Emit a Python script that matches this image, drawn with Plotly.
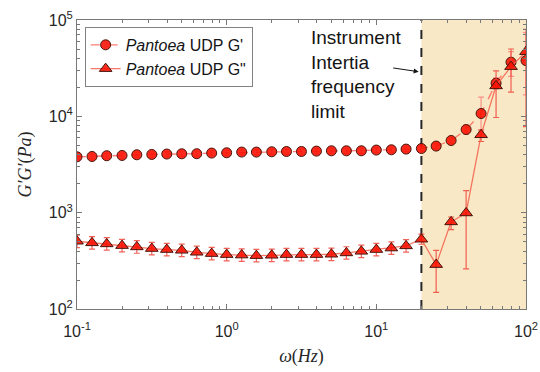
import plotly.graph_objects as go

# Oscillatory frequency sweep, Pantoea UDP
freq = [0.1, 0.126, 0.158, 0.2, 0.251, 0.316, 0.398, 0.501, 0.631, 0.794,
        1.0, 1.26, 1.58, 2.0, 2.51, 3.16, 3.98, 5.01, 6.31, 7.94,
        10.0, 12.6, 15.8, 20.0, 25.1, 31.6, 39.8, 50.1, 63.1, 79.4, 100.0]

g_storage = [3800, 3830, 3900, 3925, 3990, 4020, 4060, 4085, 4090, 4155,
             4185, 4255, 4255, 4285, 4315, 4315, 4355, 4385, 4385, 4390,
             4465, 4495, 4570, 4635, 4910, 5610, 7290, 10700, 22100, 36500, 37900]
g_storage_hi = [4030, 4060, 4130, 4160, 4230, 4260, 4300, 4330, 4340, 4400,
                4440, 4510, 4510, 4540, 4570, 4570, 4620, 4650, 4650, 4650,
                4730, 4760, 4840, 4910, 5200, 5950, 8110, 15800, 25100, 46900, 73800]
g_storage_lo = [3570, 3600, 3670, 3690, 3750, 3780, 3820, 3840, 3840, 3910,
                3930, 4000, 4000, 4030, 4060, 4060, 4090, 4120, 4120, 4130,
                4200, 4230, 4300, 4360, 4620, 5270, 6550, 7000, 19100, 26000, 16700]

g_loss = [505, 486, 474, 455, 441, 424, 414, 407, 388, 376,
          367, 363, 358, 361, 367, 367, 367, 370, 382, 397,
          414, 429, 452, 530, 289, 802, 993, 6430, 20700, 32800, 46900]
g_loss_hi = [585, 565, 550, 528, 512, 492, 480, 472, 450, 436,
             426, 421, 415, 419, 426, 426, 426, 429, 443, 460,
             480, 498, 524, 600, 406, 902, 1690, 7240, 29600, 50000, 80000]
g_loss_lo = [434, 418, 408, 391, 379, 365, 356, 350, 334, 323,
             316, 312, 308, 310, 316, 316, 316, 318, 329, 341,
             356, 369, 389, 470, 149, 667, 261, 5480, 9730, 17800, 7830]

inertia_limit = 20.0
x_ticks = [0.1, 1, 10, 100]
x_ticktext = ["10<sup>-1</sup>", "10<sup>0</sup>", "10<sup>1</sup>", "10<sup>2</sup>"]
y_ticks = [100, 1000, 10000, 100000]
y_ticktext = ["10<sup>2</sup>", "10<sup>3</sup>", "10<sup>4</sup>", "10<sup>5</sup>"]


def minor_ticks(e0, e1):
    return [m * 10.0 ** e for e in range(e0, e1) for m in range(2, 10)]


def err_up(vals, hi):
    return [h - v for v, h in zip(vals, hi)]


def err_dn(vals, lo):
    return [v - l for v, l in zip(vals, lo)]


fig = go.Figure()

# frequency range beyond the instrument inertia limit
fig.add_shape(type="rect", xref="x", yref="paper", x0=inertia_limit, x1=100,
              y0=0, y1=1, fillcolor="rgb(248,232,198)", line_width=0, layer="below")
fig.add_shape(type="line", xref="x", yref="paper", x0=inertia_limit, x1=inertia_limit,
              y0=0, y1=1, line=dict(color="rgb(40,40,40)", width=2, dash="dash"),
              layer="below")

fig.add_trace(go.Scatter(
    x=freq, y=g_storage, mode="lines+markers",
    name="<i>Pantoea</i> UDP G'",
    line=dict(color="rgba(255,80,70,0.75)", width=1.3, dash="dash"),
    marker=dict(symbol="circle", size=10, color="rgba(250,15,0,0.88)",
                line=dict(color="rgb(70,20,10)", width=1)),
    error_y=dict(type="data", symmetric=False,
                 array=err_up(g_storage, g_storage_hi),
                 arrayminus=err_dn(g_storage, g_storage_lo),
                 color="rgba(255,110,110,0.7)", thickness=1.2, width=3),
))

fig.add_trace(go.Scatter(
    x=freq, y=g_loss, mode="lines+markers",
    name="<i>Pantoea</i> UDP G\"",
    line=dict(color="rgba(245,95,75,0.85)", width=1.3),
    marker=dict(symbol="triangle-up", size=11, color="rgba(250,15,0,0.88)",
                line=dict(color="rgb(70,20,10)", width=1)),
    error_y=dict(type="data", symmetric=False,
                 array=err_up(g_loss, g_loss_hi),
                 arrayminus=err_dn(g_loss, g_loss_lo),
                 color="rgba(240,70,60,0.85)", thickness=1.2, width=3),
))

axis_col = "rgb(120,120,120)"
tick_font = dict(family="Liberation Sans, Arial, sans-serif", size=16, color="rgb(38,38,38)")
title_font = dict(family="Liberation Serif, Times New Roman, serif", size=18, color="rgb(38,38,38)")

fig.update_xaxes(
    type="log", range=[-1, 2], tickmode="array", tickvals=x_ticks, ticktext=x_ticktext,
    ticks="inside", ticklen=5, tickcolor=axis_col, showline=True, linecolor=axis_col,
    linewidth=1, mirror="allticks", showgrid=False, zeroline=False, tickfont=tick_font,
    ticklabelstandoff=8, automargin=False,
    minor=dict(tickmode="array", tickvals=minor_ticks(-1, 2), ticks="inside",
               ticklen=3, tickcolor=axis_col, showgrid=False),
    title=dict(text="<i>ω</i>(<i>Hz</i>)", font=title_font, standoff=10),
)
fig.update_yaxes(
    type="log", range=[2, 5], tickmode="array", tickvals=y_ticks, ticktext=y_ticktext,
    ticks="inside", ticklen=5, tickcolor=axis_col, showline=True, linecolor=axis_col,
    linewidth=1, mirror="allticks", showgrid=False, zeroline=False, tickfont=tick_font,
    automargin=False,
    minor=dict(tickmode="array", tickvals=minor_ticks(2, 5), ticks="inside",
               ticklen=3, tickcolor=axis_col, showgrid=False),
    title=dict(text="<i>G′G′</i>(<i>Pa</i>)", font=title_font, standoff=12),
)

fig.add_annotation(
    xref="paper", yref="paper", x=0.516, y=0.982, xanchor="left", yanchor="top",
    text="Instrument<br>Intertia<br>frequency<br>limit", showarrow=False, align="left",
    font=dict(family="Liberation Sans, Arial, sans-serif", size=19, color="rgb(20,20,20)"),
)
fig.add_annotation(
    xref="paper", yref="paper", x=0.761, y=0.821, text="", showarrow=True,
    ax=-27, ay=-4, arrowhead=2, arrowsize=1, arrowwidth=1, arrowcolor="rgb(20,20,20)",
)

fig.update_layout(
    width=540, height=372, autosize=False,
    margin=dict(l=77, r=14, t=20, b=63),
    paper_bgcolor="white", plot_bgcolor="white",
    showlegend=True,
    legend=dict(x=0.017, y=0.976, xanchor="left", yanchor="top",
                bgcolor="white", bordercolor="rgb(130,130,130)", borderwidth=1,
                font=dict(family="Liberation Sans, Arial, sans-serif", size=16,
                          color="rgb(20,20,20)"),
                tracegroupgap=0, itemwidth=30),
)

fig.write_html("out.html")
